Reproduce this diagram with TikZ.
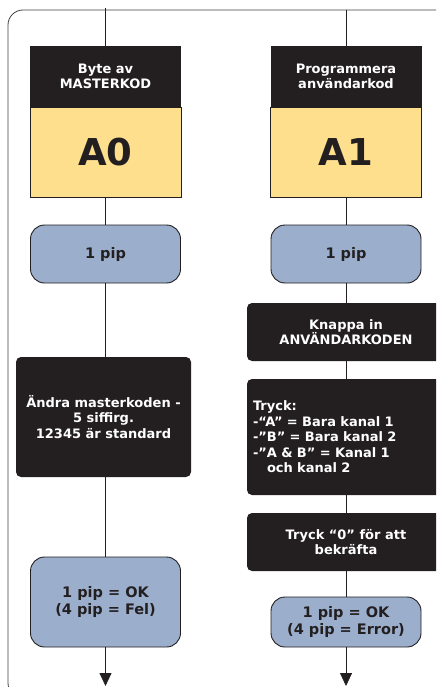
\documentclass[tikz,border=0pt]{standalone}
\usepackage{fontspec}
\setmainfont{DejaVu Sans}
\usetikzlibrary{arrows.meta}
\definecolor{boxblack}{HTML}{231F20}
\definecolor{codeyellow}{HTML}{FDDF8E}
\definecolor{pipblue}{HTML}{9BAFCD}

\begin{document}
\begin{tikzpicture}[x=1pt, y=-1pt]
	\tikzstyle{head} = [ fill=boxblack, text=white, inner sep=0pt, minimum width=151pt, minimum height=61pt, align=center, font={\bfseries\fontsize{13}{15.5}\selectfont}];
	\tikzstyle{code} = [ draw=boxblack, fill=codeyellow, thin, inner sep=0pt, minimum width=151pt, minimum height=90pt, font={\bfseries\fontsize{37}{40}\selectfont}, text=boxblack];
	\tikzstyle{pip} = [ draw=boxblack, fill=pipblue, line width=0.9pt, rounded corners=14pt, inner sep=0pt, minimum width=150pt, align=center, font={\bfseries\fontsize{14.5}{17}\selectfont}, text=boxblack];
	\tikzstyle{stepbox} = [ fill=boxblack, text=white, rounded corners=5pt, inner sep=0pt, align=center, font={\bfseries\fontsize{13}{15.5}\selectfont}];
	\tikzstyle{flow} = [ line width=0.8pt, color=boxblack];
	\tikzstyle{exit} = [ line width=0.8pt, color=boxblack, -{Triangle[width=12pt, length=13pt]}];

	\useasboundingbox (0,0) rectangle (436,687);
	\clip (0,0) rectangle (436,687);

	\draw[line width=0.8pt, color=boxblack!85, rounded corners=15pt] (8,10) rectangle (480,698);

	\coordinate (topA) at (105.5,8);
	\coordinate (topB) at (346,10);
	\coordinate (endA) at (105.5,686);
	\coordinate (endB) at (346,686);

	\node[head] (headA) at (105.5,76.5) {Byte av\\MASTERKOD};
	\node[code] (codeA) at (105.5,152) {A0};
	\node[pip, minimum height=58pt] (pipA) at (105.5,254) {1 pip};
	\node[stepbox, minimum width=175pt, minimum height=120pt] (changeA) at (103.5,417) {Ändra masterkoden -\\5 siffirg.\\12345 är standard};
	\node[pip, minimum height=90pt] (okA) at (105.5,602) {1 pip = OK\\(4 pip = Fel)};

	\node[head] (headB) at (346,76.5) {Programmera\\användarkod};
	\node[code] (codeB) at (346,152) {A1};
	\node[pip, minimum height=58pt] (pipB) at (346,254) {1 pip};
	\node[stepbox, minimum width=198pt, minimum height=58pt] (enterB) at (346,332) {Knappa in\\ANVÄNDARKODEN};
	\node[stepbox, minimum width=198pt, minimum height=116pt, text width=186pt, align=left] (pressB) at (346,437) {Tryck:\\-“A” = Bara kanal 1\\-”B” = Bara kanal 2\\-”A \& B” = Kanal 1\\\hspace*{14pt}och kanal 2};
	\node[stepbox, minimum width=198pt, minimum height=58pt] (confirmB) at (346,542) {Tryck “0” för att\\bekräfta};
	\node[pip, minimum height=50pt] (okB) at (346,622) {1 pip = OK\\(4 pip = Error)};

	\draw[flow] (topA) -- (headA);
	\draw[flow] (codeA) -- (pipA);
	\draw[flow] (pipA) -- (pipA.south |- changeA.north);
	\draw[flow] (changeA.south -| okA) -- (okA);
	\draw[exit] (okA) -- (endA);

	\draw[flow] (topB) -- (headB);
	\draw[flow] (codeB) -- (pipB);
	\draw[flow] (pipB) -- (enterB);
	\draw[flow] (enterB) -- (pressB);
	\draw[flow] (pressB) -- (confirmB);
	\draw[flow] (confirmB) -- (okB);
	\draw[exit] (okB) -- (endB);
\end{tikzpicture}
\end{document}
